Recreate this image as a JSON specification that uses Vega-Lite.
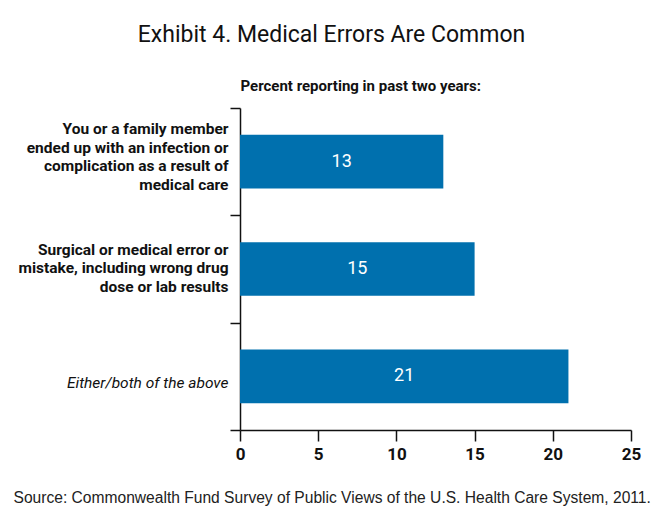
{
  "$schema": "https://vega.github.io/schema/vega-lite/v6.json",
  "autosize": "none",
  "width": 391,
  "height": 322,
  "padding": {"left": 240, "top": 108, "right": 23, "bottom": 90},
  "background": "white",
  "title": {
    "text": "Exhibit 4. Medical Errors Are Common",
    "anchor": "middle",
    "frame": "group",
    "dx": -104,
    "offset": 31,
    "font": "Roboto, sans-serif",
    "fontSize": 23,
    "fontWeight": "normal",
    "color": "#111"
  },
  "data": {
    "values": [
      {"item": "You or a family member|ended up with an infection or|complication as a result of|medical care", "value": 13},
      {"item": "Surgical or medical error or|mistake, including wrong drug|dose or lab results", "value": 15},
      {"item": "Either/both of the above", "value": 21}
    ]
  },
  "encoding": {
    "y": {
      "field": "item",
      "type": "nominal",
      "sort": null,
      "scale": {"paddingInner": 0, "paddingOuter": 0},
      "axis": {
        "title": null,
        "tickBand": "extent",
        "tickSize": 10,
        "tickColor": "#111",
        "tickWidth": 1.5,
        "domainColor": "#111",
        "domainWidth": 1.5,
        "labelExpr": "split(datum.label, '|')",
        "labelFont": "Roboto, sans-serif",
        "labelFontSize": 15.5,
        "labelLineHeight": 18.5,
        "labelFontWeight": {"condition": {"test": "datum.label == 'Either/both of the above'", "value": "normal"}, "value": "bold"},
        "labelFontStyle": {"condition": {"test": "datum.label == 'Either/both of the above'", "value": "italic"}, "value": "normal"},
        "labelOffset": {
          "condition": [
            {"test": "datum.label == 'You or a family member|ended up with an infection or|complication as a result of|medical care'", "value": -33},
            {"test": "datum.label == 'Surgical or medical error or|mistake, including wrong drug|dose or lab results'", "value": -20}
          ],
          "value": 6
        },
        "labelColor": "#111",
        "labelPadding": 2,
        "labelLimit": 300,
        "labelBaseline": "middle"
      }
    }
  },
  "layer": [
    {
      "mark": {"type": "bar", "color": "#0070AE", "height": {"band": 0.5}},
      "encoding": {
        "x": {
          "field": "value",
          "type": "quantitative",
          "scale": {"domain": [0, 25], "nice": false},
          "axis": {
            "values": [0, 5, 10, 15, 20, 25],
            "grid": false,
            "tickSize": 11,
            "tickColor": "#111",
            "tickWidth": 1.5,
            "domainColor": "#111",
            "domainWidth": 1.5,
            "labelFont": "Roboto, sans-serif",
            "labelFontSize": 17,
            "labelFontWeight": "bold",
            "labelColor": "#111",
            "labelPadding": 5,
            "labelFlush": false,
            "title": "Source: Commonwealth Fund Survey of Public Views of the U.S. Health Care System, 2011.",
            "titleX": -227,
            "titleY": 67,
            "titleAnchor": null,
            "titleAlign": "left",
            "titleBaseline": "middle",
            "titleFont": "Liberation Sans, Arial, sans-serif",
            "titleFontSize": 15.6,
            "titleFontWeight": "normal",
            "titleColor": "#222"
          }
        }
      }
    },
    {
      "mark": {
        "type": "text",
        "color": "white",
        "font": "Roboto, sans-serif",
        "fontSize": 18,
        "baseline": "middle",
        "align": "center"
      },
      "encoding": {
        "x": {
          "field": "value",
          "type": "quantitative",
          "scale": {"domain": [0, 50], "nice": false},
          "axis": {
            "orient": "top",
            "domain": false,
            "ticks": false,
            "labels": false,
            "grid": false,
            "title": "Percent reporting in past two years:",
            "titleX": 0,
            "titleY": -23,
            "titleAnchor": null,
            "titleAlign": "left",
            "titleBaseline": "middle",
            "titleFont": "Roboto, sans-serif",
            "titleFontSize": 15,
            "titleFontWeight": "bold",
            "titleColor": "#111"
          }
        },
        "text": {"field": "value", "type": "quantitative"}
      }
    }
  ],
  "resolve": {"scale": {"x": "independent"}},
  "config": {"view": {"stroke": null}}
}
